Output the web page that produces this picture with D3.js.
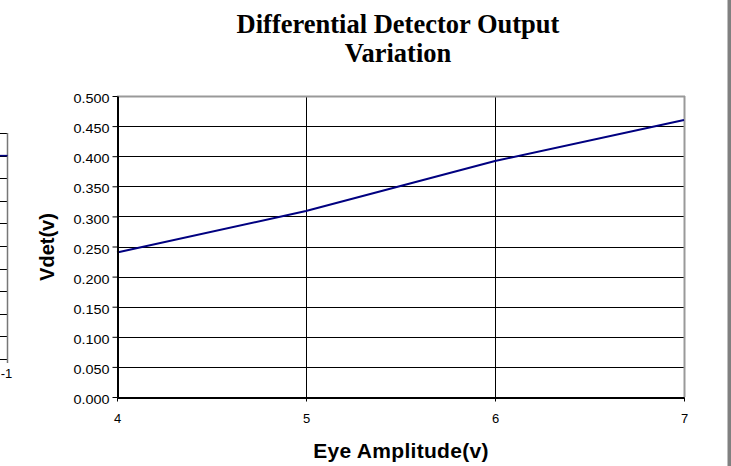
<!DOCTYPE html>
<html>
<head>
<meta charset="utf-8">
<script src="https://cdn.jsdelivr.net/npm/d3@7"></script>
<style>
  body { margin: 0; background: #fff; }
  svg { display: block; }
</style>
</head>
<body>
<div id="chart"></div>
<script>
// data
var amplitude = [4, 5, 6, 7];
var vdet = [0.240, 0.309, 0.392, 0.460];
var yTicks = [0, 0.05, 0.1, 0.15, 0.2, 0.25, 0.3, 0.35, 0.4, 0.45, 0.5];
var xTicks = [4, 5, 6, 7];

// cut-off neighbouring chart on the left edge
var fragTicks = [0, 1, 2, 3, 4, 5, 6, 7, 8, 9, 10];
var fragX = [-1.04, -1];
var fragY = [9, 9];

var W = 731, H = 466;
var margin = {top: 96, right: 47, bottom: 69, left: 117};
var sans = "'Liberation Sans', Arial, sans-serif";

var svg = d3.select("#chart").append("svg")
  .attr("width", W)
  .attr("height", H);

var x = d3.scaleLinear().domain([4, 7]).range([margin.left, W - margin.right]);
var y = d3.scaleLinear().domain([0, 0.5]).range([H - margin.bottom, margin.top]);

// gridlines
svg.append("g")
  .selectAll("line")
  .data(yTicks.slice(1))
  .enter().append("line")
    .attr("x1", x(4)).attr("x2", x(7))
    .attr("y1", d => Math.round(y(d)) + 0.5)
    .attr("y2", d => Math.round(y(d)) + 0.5)
    .attr("stroke", "#000")
    .attr("stroke-width", 1);

svg.append("g")
  .selectAll("line")
  .data(xTicks.slice(1, -1))
  .enter().append("line")
    .attr("x1", d => Math.round(x(d)) + 0.5)
    .attr("x2", d => Math.round(x(d)) + 0.5)
    .attr("y1", y(0)).attr("y2", y(0.5))
    .attr("stroke", "#000")
    .attr("stroke-width", 1);

// plot area border (top / right grey like excel)
svg.append("line")
  .attr("x1", x(4)).attr("x2", x(7) + 1)
  .attr("y1", Math.round(y(0.5)) + 0.5).attr("y2", Math.round(y(0.5)) + 0.5)
  .attr("stroke", "#999").attr("stroke-width", 2);
svg.append("line")
  .attr("x1", Math.round(x(7)) + 0.5).attr("x2", Math.round(x(7)) + 0.5)
  .attr("y1", y(0.5)).attr("y2", y(0))
  .attr("stroke", "#999").attr("stroke-width", 2);

// series
var line = d3.line()
  .x((d, i) => x(amplitude[i]))
  .y(d => y(d));

svg.append("path")
  .datum(vdet)
  .attr("d", line)
  .attr("fill", "none")
  .attr("stroke", "#000080")
  .attr("stroke-width", 2);

// axes
var yAxis = svg.append("g")
  .attr("transform", "translate(" + (Math.round(x(4)) + 0.5) + ",0)")
  .call(d3.axisLeft(y).tickValues(yTicks).tickFormat(d3.format(".3f"))
    .tickSize(5).tickSizeOuter(0).tickPadding(3));

var xAxis = svg.append("g")
  .attr("transform", "translate(0," + (Math.round(y(0)) + 0.5) + ")")
  .call(d3.axisBottom(x).tickValues(xTicks).tickFormat(d3.format("d"))
    .tickSize(4).tickSizeOuter(0).tickPadding(12));

[yAxis, xAxis].forEach(function(a) {
  a.attr("font-family", sans);
  a.select(".domain").attr("stroke", "#000").attr("stroke-width", 2);
  a.selectAll(".tick line").attr("stroke", "#000");
  a.selectAll(".tick text").attr("fill", "#000");
});

// excel draws the value labels a little wide
yAxis.selectAll(".tick text")
  .attr("font-size", "12px")
  .attr("dy", "0.55em")
  .attr("textLength", 36)
  .attr("lengthAdjust", "spacingAndGlyphs");
xAxis.selectAll(".tick text").attr("font-size", "13px");

// titles
var title = svg.append("text")
  .attr("text-anchor", "middle")
  .attr("font-family", "'Liberation Serif', 'Times New Roman', serif")
  .attr("font-weight", "bold")
  .attr("font-size", "26.5px");
title.append("tspan").attr("x", 398).attr("y", 33).text("Differential Detector Output");
title.append("tspan").attr("x", 398).attr("y", 62).text("Variation");

svg.append("text")
  .attr("text-anchor", "middle")
  .attr("x", 401).attr("y", 458)
  .attr("font-family", sans)
  .attr("font-weight", "bold")
  .attr("font-size", "21px")
  .attr("letter-spacing", "0.3px")
  .text("Eye Amplitude(v)");

svg.append("text")
  .attr("text-anchor", "middle")
  .attr("transform", "translate(54," + (y(0.25) + 0.5) + ") rotate(-90)")
  .attr("font-family", sans)
  .attr("font-weight", "bold")
  .attr("font-size", "20px")
  .text("Vdet(v)");

// left fragment of the previous chart
var fx = d3.scaleLinear().domain([-1.04, -1]).range([0, 7.5]);
var fy = d3.scaleLinear().domain([0, 10]).range([359, 133]);

svg.append("g")
  .selectAll("line")
  .data(fragTicks)
  .enter().append("line")
    .attr("x1", 0).attr("x2", fx(-1))
    .attr("y1", d => Math.round(fy(d)) + 0.5)
    .attr("y2", d => Math.round(fy(d)) + 0.5)
    .attr("stroke", "#000");

svg.append("line")
  .attr("x1", fx(-1)).attr("x2", fx(-1))
  .attr("y1", fy(10)).attr("y2", fy(0) + 4)
  .attr("stroke", "#777").attr("stroke-width", 1.5);

svg.append("path")
  .datum(fragY)
  .attr("d", d3.line().x((d, i) => fx(fragX[i])).y(d => fy(d)))
  .attr("fill", "none")
  .attr("stroke", "#000080")
  .attr("stroke-width", 1.5);

svg.append("text")
  .attr("x", fx(-1) - 1).attr("y", 378)
  .attr("text-anchor", "middle")
  .attr("font-family", sans)
  .attr("font-size", "13px")
  .text("-1");

// grey strip at the right edge
svg.append("rect")
  .attr("x", 727.5).attr("y", 0)
  .attr("width", 3.5).attr("height", H)
  .attr("fill", "#808080");
</script>
</body>
</html>
